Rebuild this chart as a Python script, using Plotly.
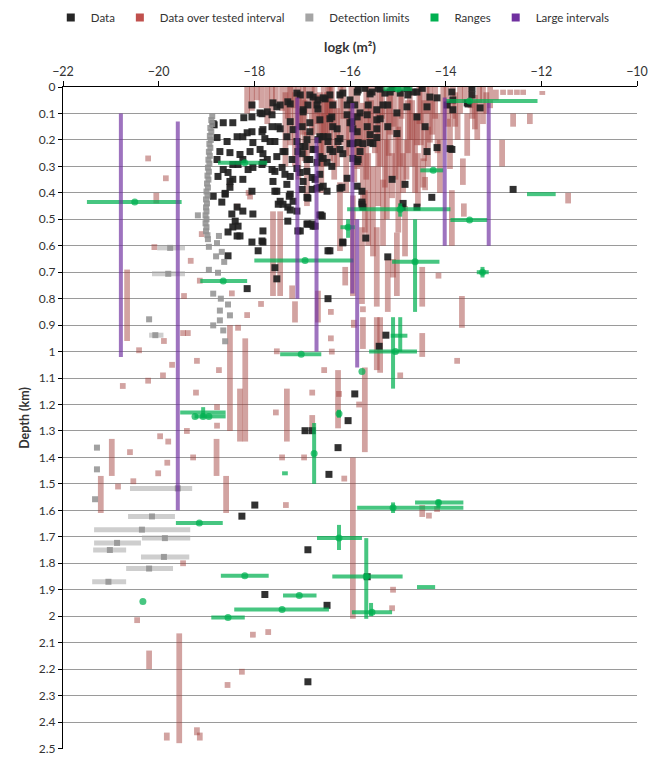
import plotly.graph_objects as go

# ---------------- axis ticks ----------------
x_ticks = [-22, -20, -18, -16, -14, -12, -10]
y_ticks = [0, 0.1, 0.2, 0.3, 0.4, 0.5, 0.6, 0.7, 0.8, 0.9, 1.0, 1.1, 1.2, 1.3, 1.4,
           1.5, 1.6, 1.7, 1.8, 1.9, 2.0, 2.1, 2.2, 2.3, 2.4, 2.5]
y_tick_text = ["0", "0.1", "0.2", "0.3", "0.4", "0.5", "0.6", "0.7", "0.8", "0.9", "1",
               "1.1", "1.2", "1.3", "1.4", "1.5", "1.6", "1.7", "1.8", "1.9", "2",
               "2.1", "2.2", "2.3", "2.4", "2.5"]

# ---------------- Data: (logk, depth km) ----------------
data_points = [
    (-18.84, 0.143), (-18.65, 0.135), (-18.45, 0.135), (-18.22, 0.116), (-18.05, 0.113), (-17.88, 0.098),
    (-17.73, 0.094), (-17.61, 0.060), (-17.46, 0.068), (-17.30, 0.056), (-17.11, 0.023), (-16.84, 0.030),
    (-16.67, 0.049), (-18.78, 0.191), (-18.57, 0.206), (-18.36, 0.188), (-18.15, 0.173), (-18.03, 0.210),
    (-17.82, 0.161), (-17.67, 0.206), (-17.50, 0.150), (-17.32, 0.188), (-17.19, 0.161), (-17.04, 0.225),
    (-16.90, 0.199), (-16.73, 0.236), (-16.56, 0.188), (-18.72, 0.244), (-18.51, 0.248), (-18.30, 0.255),
    (-18.09, 0.244), (-17.88, 0.236), (-17.73, 0.274), (-17.53, 0.263), (-17.40, 0.244), (-17.21, 0.274),
    (-17.09, 0.244), (-16.84, 0.274), (-16.63, 0.263), (-18.78, 0.274), (-18.65, 0.312), (-18.45, 0.293),
    (-18.24, 0.274), (-18.03, 0.304), (-17.82, 0.285), (-17.63, 0.312), (-17.42, 0.304), (-17.25, 0.338),
    (-17.04, 0.323), (-16.79, 0.342), (-18.76, 0.338), (-18.55, 0.323), (-18.45, 0.349), (-18.51, 0.379),
    (-18.61, 0.405), (-18.68, 0.435), (-18.86, 0.413), (-18.05, 0.394), (-17.53, 0.394), (-17.40, 0.443),
    (-17.30, 0.454), (-17.19, 0.432), (-17.11, 0.469), (-17.00, 0.387), (-16.79, 0.387), (-16.73, 0.349),
    (-16.63, 0.379), (-16.58, 0.488), (-18.47, 0.480), (-18.36, 0.454), (-18.24, 0.469), (-18.03, 0.480),
    (-18.40, 0.507), (-18.45, 0.529), (-18.34, 0.526), (-18.55, 0.548), (-18.36, 0.563), (-18.30, 0.563),
    (-17.82, 0.544), (-18.05, 0.586), (-17.82, 0.586), (-17.92, 0.619), (-17.57, 0.683), (-17.53, 0.725),
    (-18.15, 0.762), (-17.09, 0.544), (-16.79, 0.518), (-16.73, 0.526), (-16.46, 0.619), (-16.46, 0.800),
    (-18.55, 0.638), (-18.86, 0.139), (-18.05, 0.068), (-17.84, 0.101), (-17.63, 0.105), (-17.53, 0.075),
    (-17.25, 0.064), (-18.05, 0.169), (-17.84, 0.169), (-17.63, 0.150), (-17.46, 0.158), (-17.25, 0.131),
    (-17.04, 0.030), (-16.98, 0.094), (-16.88, 0.068), (-16.77, 0.038), (-16.67, 0.083), (-16.52, 0.045),
    (-16.36, 0.068), (-16.21, 0.030), (-16.06, 0.068), (-15.85, 0.019), (-16.42, 0.120), (-16.27, 0.158),
    (-15.96, 0.131), (-15.85, 0.169), (-18.24, 0.188), (-17.78, 0.195), (-17.57, 0.206), (-17.11, 0.206),
    (-16.84, 0.169), (-16.67, 0.199), (-16.46, 0.188), (-16.21, 0.195), (-16.00, 0.214), (-17.82, 0.252),
    (-17.36, 0.244), (-17.00, 0.252), (-16.56, 0.270), (-16.36, 0.244), (-16.15, 0.252), (-15.94, 0.270),
    (-18.34, 0.293), (-18.13, 0.312), (-17.84, 0.293), (-17.57, 0.319), (-17.36, 0.330), (-17.11, 0.308),
    (-16.90, 0.319), (-16.63, 0.330), (-16.38, 0.300), (-16.06, 0.345), (-18.51, 0.357), (-18.24, 0.349),
    (-17.61, 0.357), (-17.32, 0.368), (-16.98, 0.357), (-16.69, 0.383), (-16.21, 0.383), (-17.57, 0.394),
    (-17.25, 0.405), (-16.48, 0.394), (-18.61, 0.402), (-16.98, 0.086), (-16.69, 0.068), (-16.56, 0.041),
    (-16.42, 0.030), (-16.15, 0.023), (-16.00, 0.049), (-15.83, 0.011), (-15.69, 0.005), (-15.54, 0.019),
    (-15.41, 0.005), (-15.27, 0.023), (-15.12, 0.006), (-14.95, 0.023), (-14.81, 0.006), (-14.68, 0.019),
    (-14.49, 0.005), (-14.18, 0.041), (-13.87, 0.019), (-13.85, 0.086), (-13.45, 0.005), (-13.45, 0.030),
    (-13.28, 0.079), (-13.55, 0.060), (-15.62, 0.068), (-15.44, 0.086), (-15.21, 0.068), (-14.81, 0.075),
    (-14.39, 0.075), (-15.02, 0.098), (-15.79, 0.098), (-16.06, 0.105), (-16.38, 0.113), (-16.63, 0.124),
    (-16.84, 0.135), (-17.00, 0.150), (-16.36, 0.150), (-16.00, 0.135), (-15.64, 0.150), (-15.44, 0.124),
    (-15.21, 0.150), (-14.43, 0.150), (-16.63, 0.188), (-16.46, 0.206), (-16.25, 0.206), (-15.83, 0.210),
    (-15.58, 0.210), (-15.44, 0.191), (-16.94, 0.225), (-16.77, 0.236), (-16.42, 0.236), (-16.21, 0.236),
    (-15.79, 0.244), (-14.39, 0.244), (-14.18, 0.229), (-13.87, 0.236), (-16.90, 0.274), (-16.69, 0.285),
    (-16.48, 0.285), (-15.83, 0.274), (-16.90, 0.417), (-16.56, 0.375), (-16.17, 0.379), (-15.85, 0.375),
    (-15.75, 0.394), (-15.12, 0.349), (-14.85, 0.368), (-14.29, 0.417), (-12.59, 0.387), (-15.75, 0.443),
    (-14.91, 0.454), (-14.60, 0.454), (-14.89, 0.440), (-16.63, 0.484), (-16.90, 0.518), (-16.77, 0.526),
    (-16.15, 0.586), (-16.42, 0.619), (-15.21, 0.642), (-17.04, 0.544), (-15.58, 0.026), (-15.37, 0.008),
    (-15.16, 0.019), (-14.79, 0.030), (-14.60, 0.019), (-14.33, 0.038), (-13.97, 0.068), (-13.85, 0.049),
    (-13.53, 0.064), (-15.90, 0.068), (-15.31, 0.068), (-15.85, 0.113), (-15.64, 0.105), (-15.37, 0.120),
    (-14.60, 0.113), (-15.94, 0.158), (-15.44, 0.158), (-15.02, 0.176), (-15.58, 0.180), (-15.73, 0.214),
    (-15.52, 0.214), (-15.94, 0.214), (-13.91, 0.233), (-15.85, 0.282), (-17.50, 0.443), (-17.46, 0.432),
    (-17.27, 0.413), (-17.25, 0.465), (-17.30, 0.507), (-16.88, 0.420), (-16.88, 0.518), (-16.61, 0.484),
    (-16.15, 0.589), (-15.75, 0.435), (-15.73, 0.454), (-17.84, 0.582), (-15.67, 0.571),
    (-15.25, 0.938), (-15.39, 0.980), (-15.90, 1.160), (-16.04, 1.261), (-16.94, 1.299), (-16.79, 1.299),
    (-16.25, 1.363), (-16.44, 1.464), (-17.99, 1.580), (-18.26, 1.622), (-16.88, 1.749), (-17.78, 1.918),
    (-16.48, 1.959), (-16.88, 2.248), (-15.64, 1.851),
]

# ---------------- Data over tested interval: (logk, top depth, bottom depth) ----------------
tested_intervals = [
    (-18.15, 0.00, 0.10), (-18.05, 0.00, 0.09), (-17.73, 0.00, 0.14), (-17.63, 0.00, 0.10), (-17.42, 0.00, 0.09),
    (-17.30, 0.00, 0.12), (-17.25, 0.00, 0.22), (-17.18, 0.00, 0.08), (-17.15, 0.02, 0.30), (-17.05, 0.02, 0.16),
    (-16.98, 0.00, 0.18), (-16.92, 0.00, 0.10), (-16.90, 0.17, 0.45), (-16.80, 0.00, 0.25), (-16.68, 0.03, 0.14),
    (-16.63, 0.02, 0.30), (-16.55, 0.00, 0.30), (-16.52, 0.05, 0.20), (-16.45, 0.00, 0.12), (-16.42, 0.00, 0.28),
    (-16.33, 0.05, 0.35), (-16.21, 0.36, 0.62), (-16.20, 0.00, 0.22), (-16.10, 0.68, 0.75), (-16.08, 0.10, 0.40),
    (-15.97, 0.00, 0.15), (-15.85, 0.00, 0.31), (-15.79, 0.10, 0.30), (-15.75, 0.53, 0.82), (-15.73, 0.06, 0.45),
    (-15.69, 0.39, 0.55), (-15.62, 0.25, 0.60), (-15.60, 0.00, 0.20), (-15.52, 0.30, 0.64), (-15.48, 0.00, 0.25),
    (-15.44, 0.53, 0.83), (-15.37, 0.02, 0.30), (-15.31, 0.35, 0.60), (-15.27, 0.08, 0.38), (-15.21, 0.65, 0.85),
    (-15.16, 0.00, 0.18), (-15.12, 0.25, 0.42), (-15.10, 0.65, 0.72), (-15.05, 0.10, 0.35), (-15.02, 0.55, 0.79),
    (-14.95, 0.00, 0.30), (-14.89, 0.25, 0.40), (-14.85, 0.45, 0.64), (-14.79, 0.05, 0.25), (-14.75, 0.00, 0.20),
    (-14.64, 0.10, 0.40), (-14.60, 0.10, 0.22), (-14.55, 0.00, 0.14), (-14.49, 0.68, 0.83), (-14.47, 0.27, 0.38),
    (-14.45, 0.05, 0.28), (-14.43, 0.34, 0.39), (-14.33, 0.00, 0.21), (-14.22, 0.00, 0.12), (-14.12, 0.20, 0.40),
    (-14.05, 0.00, 0.20), (-13.95, 0.05, 0.15), (-13.91, 0.12, 0.31), (-13.87, 0.39, 0.60), (-13.80, 0.02, 0.15),
    (-13.70, 0.00, 0.10), (-13.66, 0.79, 0.91), (-13.64, 0.27, 0.37), (-13.62, 0.44, 0.49), (-13.55, 0.10, 0.26),
    (-13.48, 0.00, 0.08), (-13.39, 0.03, 0.16), (-13.30, 0.00, 0.06), (-13.22, 0.00, 0.14), (-13.07, 0.00, 0.08),
    (-12.95, 0.01, 0.05), (-12.82, 0.20, 0.30), (-12.80, 0.01, 0.03), (-12.65, 0.01, 0.03), (-12.59, 0.10, 0.15),
    (-12.51, 0.01, 0.03), (-12.38, 0.01, 0.03), (-12.24, 0.10, 0.14), (-11.98, 0.015, 0.03), (-11.44, 0.40, 0.44),
    (-17.95, 0.00, 0.05), (-17.85, 0.00, 0.08), (-17.55, 0.00, 0.06), (-17.35, 0.02, 0.30), (-17.08, 0.00, 0.35),
    (-16.95, 0.05, 0.28), (-16.74, 0.00, 0.18), (-16.60, 0.10, 0.40), (-16.48, 0.02, 0.22), (-16.38, 0.00, 0.16),
    (-16.27, 0.08, 0.30), (-16.14, 0.00, 0.12), (-16.02, 0.05, 0.26), (-15.91, 0.10, 0.36), (-15.66, 0.00, 0.35),
    (-15.56, 0.05, 0.22), (-15.41, 0.10, 0.45), (-15.33, 0.00, 0.12), (-15.23, 0.20, 0.50), (-15.19, 0.02, 0.26),
    (-15.08, 0.00, 0.15), (-14.99, 0.15, 0.55), (-14.92, 0.02, 0.12), (-14.82, 0.20, 0.35), (-14.70, 0.05, 0.30),
    (-14.58, 0.25, 0.45), (-14.52, 0.00, 0.22), (-14.40, 0.00, 0.10), (-14.37, 0.15, 0.30), (-14.28, 0.05, 0.18),
    (-14.17, 0.10, 0.25), (-13.98, 0.00, 0.08), (-13.85, 0.00, 0.12), (-13.75, 0.10, 0.20), (-13.60, 0.00, 0.06),
    (-13.44, 0.05, 0.12), (-13.34, 0.05, 0.20), (-13.15, 0.02, 0.10),
    (-17.61, 0.47, 0.79), (-17.46, 0.47, 0.79), (-17.21, 0.75, 0.80), (-17.15, 0.81, 0.89), (-16.67, 0.77, 0.89),
    (-15.94, 0.41, 0.79), (-20.66, 0.69, 0.96), (-18.51, 0.90, 1.30), (-18.19, 0.95, 1.34), (-18.30, 1.14, 1.34),
    (-17.32, 1.14, 1.34), (-16.79, 1.24, 1.29), (-16.25, 1.07, 1.29), (-15.69, 1.06, 1.38), (-15.94, 1.40, 2.01),
    (-15.44, 0.87, 1.07), (-15.37, 0.87, 1.08), (-15.73, 0.87, 0.99), (-15.92, 0.88, 0.91), (-14.49, 0.93, 1.02),
    (-20.98, 1.33, 1.47), (-21.21, 1.47, 1.61), (-18.79, 1.33, 1.47), (-18.59, 1.47, 1.61), (-19.57, 2.065, 2.48),
    (-20.20, 2.13, 2.20), (-19.83, 2.44, 2.47), (-19.20, 2.42, 2.45), (-19.14, 2.44, 2.47), (-20.05, 0.40, 0.44),
    (-14.49, 1.58, 1.625),
]

# single-depth tests (drawn as short marks): (logk, depth)
tested_points = [
    (-20.22, 0.27), (-19.85, 0.345), (-20.09, 0.605), (-19.33, 0.657), (-19.10, 0.556), (-19.14, 0.732),
    (-19.47, 0.79), (-18.47, 0.78), (-18.15, 0.862), (-17.86, 0.82), (-18.36, 0.452), (-18.09, 0.414),
    (-18.51, 0.368), (-18.12, 0.40), (-20.41, 0.995), (-20.75, 1.13), (-20.22, 1.11), (-19.91, 1.09),
    (-19.72, 1.05), (-19.89, 0.96), (-19.49, 0.93), (-19.39, 0.93), (-19.20, 1.035), (-19.22, 1.155),
    (-18.74, 1.07), (-18.78, 1.21), (-18.78, 1.28), (-19.41, 1.30), (-19.97, 1.32), (-19.80, 1.34),
    (-20.60, 1.38), (-19.28, 1.40), (-19.82, 1.42), (-20.01, 1.46), (-20.53, 1.49), (-20.85, 1.51),
    (-17.34, 1.58), (-17.55, 1.23), (-17.53, 0.999), (-16.54, 1.07), (-16.79, 1.155), (-16.96, 1.40),
    (-19.49, 1.80), (-18.26, 2.21), (-18.56, 2.26), (-15.10, 1.90), (-15.12, 1.97), (-14.35, 1.62),
    (-14.18, 1.595), (-18.34, 0.91), (-16.40, 0.95), (-16.40, 0.85), (-15.73, 0.84), (-16.38, 1.00),
    (-13.76, 1.035), (-14.95, 1.09), (-15.81, 1.20), (-16.12, 1.48), (-20.45, 2.015), (-18.03, 2.07),
    (-17.71, 2.06), (-16.23, 1.16), (-17.42, 1.40), (-14.15, 0.713),
]

# ---------------- Detection limits ----------------
detection_points = [
    (-18.88, 0.110), (-18.90, 0.125), (-18.88, 0.140), (-18.92, 0.155), (-18.90, 0.170), (-18.93, 0.185),
    (-18.91, 0.200), (-18.94, 0.215), (-18.92, 0.230), (-18.95, 0.245), (-18.93, 0.260), (-18.96, 0.275),
    (-18.94, 0.290), (-18.97, 0.305), (-18.95, 0.320), (-18.98, 0.335), (-18.96, 0.350), (-18.99, 0.365),
    (-18.97, 0.380), (-19.00, 0.395), (-18.98, 0.410), (-19.01, 0.425), (-18.99, 0.440), (-19.01, 0.455),
    (-19.00, 0.470), (-19.02, 0.485), (-19.00, 0.500), (-19.02, 0.515), (-19.00, 0.530), (-19.01, 0.545),
    (-18.98, 0.560), (-18.97, 0.575), (-19.18, 0.485), (-18.74, 0.563), (-18.95, 0.604), (-18.68, 0.623),
    (-18.63, 0.661), (-18.95, 0.691), (-18.76, 0.702), (-18.86, 0.781), (-18.55, 0.822), (-18.72, 0.845),
    (-18.51, 0.863), (-18.72, 0.882), (-18.86, 0.901), (-18.65, 0.920), (-18.61, 0.961), (-20.20, 0.878),
    (-21.29, 1.363), (-21.29, 1.445), (-21.33, 1.558), (-18.78, 0.590), (-18.80, 0.640), (-18.70, 0.800),
]
# detection-limit ranges: (depth, logk low, logk high, logk marker)
detection_ranges = [
    (0.608, -20.03, -19.45, -19.76), (0.706, -20.14, -19.45, -19.80), (0.938, -20.20, -19.90, -20.07),
    (1.517, -20.60, -19.30, -19.60), (1.623, -20.64, -19.66, -20.14), (1.673, -21.35, -19.34, -20.35),
    (1.705, -20.35, -19.34, -19.87), (1.723, -21.35, -20.37, -20.87), (1.750, -21.37, -20.68, -21.02),
    (1.776, -20.37, -19.36, -19.89), (1.820, -20.68, -19.70, -20.20), (1.870, -21.39, -20.68, -21.05),
]

# ---------------- Ranges ----------------
# horizontal: (depth, logk low, logk high)
range_h = [
    (0.435, -21.50, -19.52), (0.286, -18.76, -17.73), (0.733, -19.13, -18.15), (0.656, -18.00, -15.93),
    (0.008, -15.30, -14.70), (0.053, -14.00, -12.08), (0.315, -14.53, -14.05), (0.405, -12.30, -11.70),
    (0.462, -16.06, -13.90), (0.660, -15.12, -14.13), (0.503, -13.90, -13.13), (0.530, -16.20, -15.90),
    (0.700, -13.35, -13.10), (1.010, -17.46, -16.60), (1.000, -15.60, -14.60), (0.940, -15.15, -14.80),
    (1.230, -19.55, -18.60), (1.245, -19.25, -18.60), (1.460, -17.42, -17.30), (1.648, -19.64, -18.66),
    (1.590, -15.85, -13.63), (1.570, -14.64, -13.63), (1.705, -16.69, -15.75), (1.850, -16.37, -14.90),
    (1.890, -14.60, -14.22), (1.985, -15.96, -15.12), (1.847, -18.70, -17.70), (1.922, -17.40, -16.70),
    (1.975, -18.42, -16.44), (2.005, -18.90, -18.20),
]
# vertical: (logk, depth top, depth bottom)
range_v = [
    (-14.64, 0.50, 0.85), (-14.95, 0.44, 0.49), (-16.04, 0.50, 0.57), (-13.23, 0.68, 0.72),
    (-15.10, 0.87, 1.14), (-14.95, 0.87, 1.00), (-19.07, 1.21, 1.25), (-16.23, 1.22, 1.25),
    (-16.75, 1.27, 1.50), (-15.10, 1.57, 1.61), (-16.23, 1.655, 1.75), (-15.66, 1.705, 2.01),
    (-15.56, 1.95, 2.00), (-14.15, 1.56, 1.59),
]
# central values: (logk, depth)
range_mid = [
    (-20.50, 0.435), (-18.20, 0.286), (-18.65, 0.733), (-16.94, 0.656), (-14.95, 0.462), (-14.64, 0.660),
    (-13.50, 0.503), (-16.04, 0.530), (-13.23, 0.700), (-17.02, 1.010), (-15.05, 1.000), (-15.75, 1.075),
    (-19.07, 1.245), (-18.95, 1.245), (-19.24, 1.245), (-16.23, 1.235), (-16.75, 1.385), (-19.15, 1.648),
    (-15.10, 1.590), (-14.15, 1.570), (-16.23, 1.705), (-18.20, 1.847), (-17.06, 1.922), (-17.42, 1.975),
    (-18.55, 2.005), (-20.33, 1.945), (-15.66, 1.850), (-14.26, 0.315), (-13.50, 0.053), (-15.00, 0.008),
    (-15.54, 1.985),
]

# ---------------- Large intervals: (logk, depth top, depth bottom) ----------------
large_intervals = [
    (-20.79, 0.10, 1.02), (-19.60, 0.13, 1.60), (-17.10, 0.04, 0.80), (-16.70, 0.19, 1.00),
    (-15.95, 0.06, 0.78), (-15.85, 0.50, 1.06), (-14.02, 0.04, 0.60), (-13.10, 0.06, 0.60),
]

# ---------------- colours ----------------
C_DATA = "#1f1f1f"
C_TEST = "rgba(160,62,58,0.48)"
C_DET_BAR = "rgba(165,165,165,0.55)"
C_DET_PT = "rgba(145,145,145,0.85)"
C_RANGE = "rgba(0,176,80,0.72)"
C_LARGE = "rgba(112,48,160,0.68)"
C_TEXT = "#333333"


def vsegments(items):
    xs, ys = [], []
    for x, t, b in items:
        xs += [x, x, None]
        ys += [t, b, None]
    return xs, ys


def hsegments(items):
    xs, ys = [], []
    for y, lo, hi in items:
        xs += [lo, hi, None]
        ys += [y, y, None]
    return xs, ys


fig = go.Figure()

# Data over tested interval (bars -> each drawn separately so overlaps darken)
bar_x = [t[0] for t in tested_intervals] + [p[0] for p in tested_points]
bar_base = [t[1] for t in tested_intervals] + [p[1] - 0.011 for p in tested_points]
bar_len = [t[2] - t[1] for t in tested_intervals] + [0.022 for p in tested_points]
fig.add_trace(go.Bar(x=bar_x, base=bar_base, y=bar_len, width=0.12,
                     marker=dict(color=C_TEST, line=dict(width=0)),
                     showlegend=False, hoverinfo="skip"))

# Data
fig.add_trace(go.Scatter(x=[p[0] for p in data_points], y=[p[1] for p in data_points],
                         mode="markers", showlegend=False, hoverinfo="skip",
                         marker=dict(symbol="square", size=7, color=C_DATA, opacity=0.92)))

# Detection limits
dx, dy = hsegments([(r[0], r[1], r[2]) for r in detection_ranges])
fig.add_trace(go.Scatter(x=dx, y=dy, mode="lines", line=dict(color=C_DET_BAR, width=5),
                         showlegend=False, hoverinfo="skip"))
fig.add_trace(go.Scatter(x=[p[0] for p in detection_points] + [r[3] for r in detection_ranges],
                         y=[p[1] for p in detection_points] + [r[0] for r in detection_ranges],
                         mode="markers", showlegend=False, hoverinfo="skip",
                         marker=dict(symbol="square", size=6, color=C_DET_PT)))

# Ranges
hx, hy = hsegments(range_h)
vx, vy = vsegments(range_v)
fig.add_trace(go.Scatter(x=hx + vx, y=hy + vy, mode="lines", line=dict(color=C_RANGE, width=4),
                         showlegend=False, hoverinfo="skip"))
fig.add_trace(go.Scatter(x=[p[0] for p in range_mid], y=[p[1] for p in range_mid], mode="markers",
                         marker=dict(symbol="circle", size=7, color=C_RANGE),
                         showlegend=False, hoverinfo="skip"))

# Large intervals
lx, ly = vsegments(large_intervals)
fig.add_trace(go.Scatter(x=lx, y=ly, mode="lines", line=dict(color=C_LARGE, width=4),
                         showlegend=False, hoverinfo="skip"))

# Legend entries
legend_items = [("Data", "#262626"), ("Data over tested interval", "#C0504D"),
                ("Detection limits", "#A5A5A5"), ("Ranges", "#00B050"), ("Large intervals", "#7030A0")]
for name, col in legend_items:
    fig.add_trace(go.Scatter(x=[None], y=[None], mode="markers", name=name,
                             marker=dict(symbol="square", size=8, color=col)))

fig.update_layout(
    width=648, height=758,
    margin=dict(l=63, r=11, t=87, b=9, autoexpand=False),
    paper_bgcolor="white", plot_bgcolor="white",
    barmode="overlay",
    font=dict(family="Lato, 'Open Sans', sans-serif", size=12, color=C_TEXT),
    legend=dict(orientation="h", x=0.47, xanchor="center", y=1.105, yanchor="middle",
                font=dict(size=11.5, color=C_TEXT), itemwidth=30, traceorder="normal"),
    xaxis=dict(range=[-22, -10], side="top", tickvals=x_ticks, ticks="outside", ticklen=5,
               tickcolor="black", showline=True, linecolor="black", linewidth=1.3,
               showgrid=False, zeroline=False, automargin=False,
               tickfont=dict(size=12.5, color=C_TEXT),
               title=dict(text="<b>logk (m²)</b>", font=dict(size=13.5, color=C_TEXT), standoff=8)),
    yaxis=dict(range=[2.502, 0], tickvals=y_ticks, ticktext=y_tick_text, ticks="outside", ticklen=4,
               tickcolor="black", showline=True, linecolor="black", linewidth=1.3,
               showgrid=True, gridcolor="#9a9a9a", gridwidth=1, zeroline=False, automargin=False,
               ticklabeloverflow="allow",
               tickfont=dict(size=12, color=C_TEXT),
               title=dict(text="<b>Depth (km)</b>", font=dict(size=12.5, color=C_TEXT), standoff=6)),
)

fig.write_html("out.html")
